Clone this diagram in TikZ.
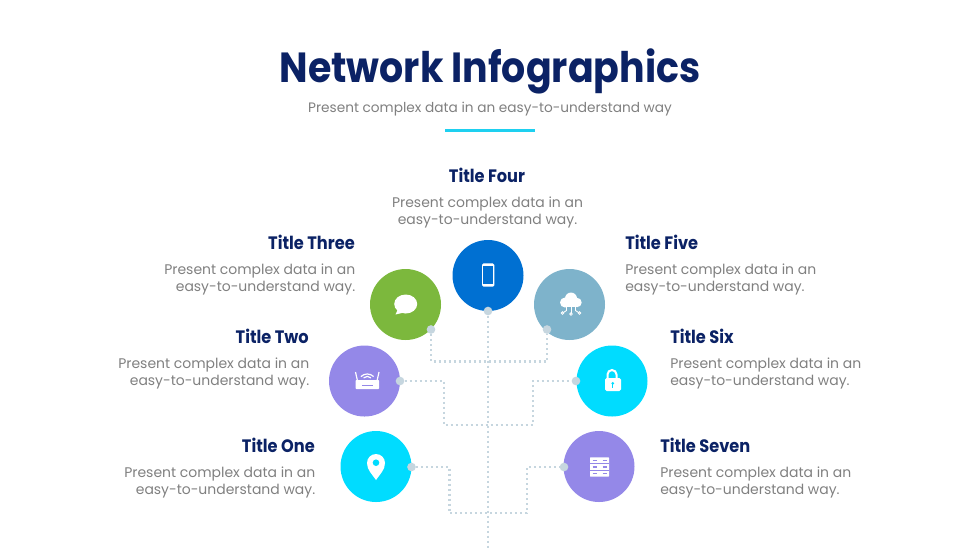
\documentclass[tikz,border=0pt]{standalone}
\usepackage{fontspec}
\setmainfont{Poppins}
\newfontfamily\headfont[FakeStretch=0.9]{Poppins}
\definecolor{navy}{HTML}{0B2265}
\definecolor{bodygrey}{HTML}{808080}
\definecolor{barcyan}{HTML}{1ED0F0}
\definecolor{phoneblue}{HTML}{0070D2}
\definecolor{chatgreen}{HTML}{7CB83D}
\definecolor{cloudblue}{HTML}{7EB3CB}
\definecolor{netpurple}{HTML}{9488E8}
\definecolor{netcyan}{HTML}{00DCFF}
\definecolor{linkgrey}{HTML}{C6D6DF}
\begin{document}
\begin{tikzpicture}[x=0.75pt,y=-0.75pt,
  hub/.style={circle,minimum size=53.25pt,inner sep=0pt},
  pad/.style={circle,fill=linkgrey,minimum size=6.5pt,inner sep=0pt},
  link/.style={linkgrey,line width=2pt,dash pattern=on 1.6pt off 2.15pt},
  head/.style={font=\headfont\fontsize{13.5}{16}\selectfont\bfseries,text=navy,inner sep=0pt},
  blurb/.style={font=\fontsize{10.47}{12.75}\selectfont,text=bodygrey,inner sep=0pt}]
\useasboundingbox (0,0) rectangle (980,551);
% heading
\node[font=\headfont\fontsize{31.6}{36}\selectfont\bfseries,text=navy,inner sep=0pt] (title) at (490,71) {Network Infographics};
\node[blurb,font=\fontsize{10.26}{13}\selectfont] (subtitle) at (490,109) {Present complex data in an easy-to-understand way};
\fill[barcyan] (445,129) rectangle (534.5,132);
% circles
\node[hub,fill=netcyan] (pin) at (376,466.5) {};
\node[hub,fill=netpurple] (router) at (364.5,381) {};
\node[hub,fill=chatgreen] (chat) at (405.5,304.5) {};
\node[hub,fill=phoneblue] (phone) at (488,275.5) {};
\node[hub,fill=cloudblue] (cloud) at (569.5,304.5) {};
\node[hub,fill=netcyan] (lock) at (612,381) {};
\node[hub,fill=netpurple] (server) at (599,466.5) {};
% pads on the rims
\node[pad] (padone) at (411.5,467) {};
\node[pad] (padtwo) at (400,381) {};
\node[pad] (padthree) at (431,329.5) {};
\node[pad] (padfour) at (488,311) {};
\node[pad] (padfive) at (547,329.5) {};
\node[pad] (padsix) at (576,381) {};
\node[pad] (padseven) at (564,467) {};
\coordinate (midtop) at (488,361.5);
\coordinate (kneetwo) at (444,425);
\coordinate (kneesix) at (533,425);
\coordinate (kneeone) at (449.5,513);
\coordinate (kneeseven) at (527,513);
\coordinate (trunkend) at (488,548);
% connectors
\draw[link] (padfour) -- (trunkend);
\draw[link] (padthree) |- (midtop) -| (padfive);
\draw[link] (padtwo) -| (kneetwo) -- (kneesix) |- (padsix);
\draw[link] (padone) -| (kneeone) -- (kneeseven) |- (padseven);
% labels
\node[head,anchor=east] (headone) at (315,445) {Title One};
\node[blurb,anchor=east,align=right] (textone) at (315.5,482.5) {Present complex data in an\\easy-to-understand way.};
\node[head,anchor=east] (headtwo) at (309,336) {Title Two};
\node[blurb,anchor=east,align=right] (texttwo) at (309.5,373.5) {Present complex data in an\\easy-to-understand way.};
\node[head,anchor=east] (headthree) at (355,242) {Title Three};
\node[blurb,anchor=east,align=right] (textthree) at (355.5,279.5) {Present complex data in an\\easy-to-understand way.};
\node[head] (headfour) at (487,175) {Title Four};
\node[blurb,align=center] (textfour) at (487.5,212.5) {Present complex data in an\\easy-to-understand way.};
\node[head,anchor=west] (headfive) at (625,242) {Title Five};
\node[blurb,anchor=west,align=left] (textfive) at (625,279.5) {Present complex data in an\\easy-to-understand way.};
\node[head,anchor=west] (headsix) at (670,336) {Title Six};
\node[blurb,anchor=west,align=left] (textsix) at (670,373.5) {Present complex data in an\\easy-to-understand way.};
\node[head,anchor=west] (headseven) at (660,445) {Title Seven};
\node[blurb,anchor=west,align=left] (textseven) at (660,482.5) {Present complex data in an\\easy-to-understand way.};
% pin icon
\fill[white] (376,480) .. controls (372,474) and (367,470) .. (367,463) arc[start angle=180,end angle=360,radius=9] .. controls (385,470) and (380,474) .. (376,480) -- cycle;
\fill[netcyan] (376,462.7) circle[radius=3.3];
% router icon
\fill[white,rounded corners=0.5pt] (355.7,380) rectangle (379,389);
\draw[netpurple,line width=0.6pt] (362,385.5) -- (373,385.5);
\draw[white,line width=0.9pt] (357.5,381) -- (355.5,372);
\draw[white,line width=0.9pt] (377,381) -- (379,372);
\draw[white,line width=0.9pt] (360.9,376.6) arc[start angle=225,end angle=315,radius=9];
\draw[white,line width=0.9pt] (363.6,377.9) arc[start angle=225,end angle=315,radius=5.2];
% chat icon
\fill[white] (405.7,304) ellipse[x radius=11.5,y radius=9.5];
\fill[white] (398,309) -- (395.5,314.5) -- (404,312.5) -- cycle;
% phone icon
\fill[white,rounded corners=1.2pt] (482,263.3) rectangle (494.4,286.7);
\fill[phoneblue] (483.2,266) rectangle (493.2,283.6);
% cloud icon
\fill[white] (565,302.5) circle[radius=5];
\fill[white] (571,298.5) circle[radius=6];
\fill[white] (577,302.5) circle[radius=4.7];
\fill[white] (565,303) rectangle (577,307.2);
\draw[white,line width=0.7pt] (571,307) -- (571,313);
\draw[white,line width=0.7pt] (566.5,307) -- (566.5,310.5) -- (563.5,312.5);
\draw[white,line width=0.7pt] (575.5,307) -- (575.5,310.5) -- (578.5,312.5);
\draw[white,line width=0.6pt] (571,314) circle[radius=1.3];
\draw[white,line width=0.6pt] (562.5,313) circle[radius=1.3];
\draw[white,line width=0.6pt] (579.5,313) circle[radius=1.3];
% lock icon
\draw[white,line width=1.5pt] (607.5,379) -- (607.5,374.5) arc[start angle=180,end angle=360,radius=4.5] -- (616.5,379);
\fill[white,rounded corners=1.2pt] (605,378) rectangle (621,391);
\fill[netcyan] (612.8,383.3) circle[radius=1.5];
\fill[netcyan] (612.2,383.5) rectangle (613.4,387.5);
% server icon
\fill[white,rounded corners=0.5pt] (590,457.3) rectangle (609,476.7);
\draw[netpurple,line width=0.5pt] (590,463.8) -- (609,463.8);
\draw[netpurple,line width=0.5pt] (590,470.2) -- (609,470.2);
\foreach \rowy in {460.6,467,473.4} {
  \draw[netpurple,line width=1pt,dash pattern=on 0.9pt off 0.5pt] (592.5,\rowy) -- (597.5,\rowy);
  \draw[netpurple,line width=1pt,dash pattern=on 0.9pt off 0.5pt] (602.5,\rowy) -- (606.5,\rowy);
}
\end{tikzpicture}
\end{document}
